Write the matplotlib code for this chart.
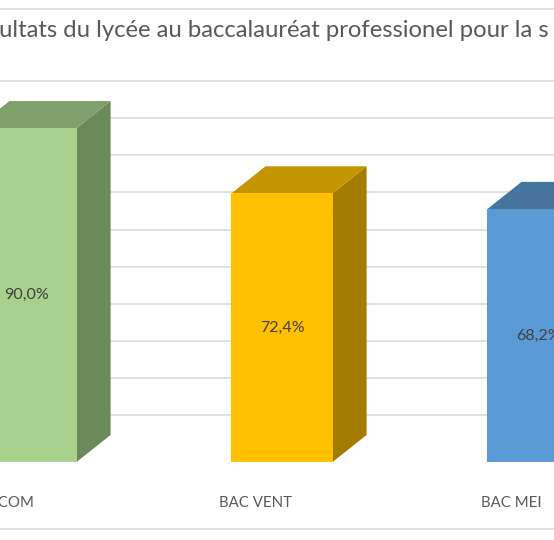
import matplotlib
matplotlib.use("Agg")
import matplotlib.pyplot as plt
from matplotlib.patches import Polygon
from matplotlib.lines import Line2D

# Data
categories = ["BAC COM", "BAC VENT", "BAC MEI"]
values = [90.0, 72.4, 68.2]
value_labels = ["90,0%", "72,4%", "68,2%"]
grid_values = [0, 10, 20, 30, 40, 50, 60, 70, 80, 90]
title_text = "ultats du lycée au baccalauréat professionel pour la s"

# Styling
front_colors = ["#A9D18E", "#FFC000", "#5B9BD5"]
top_colors = ["#7F9F6B", "#C39500", "#45749F"]
side_colors = ["#6B8A5A", "#A37B00", "#3C6690"]
font = ["Lato", "DejaVu Sans"]

W, H, DPI = 554, 540, 100
fig = plt.figure(figsize=(W / DPI, H / DPI), dpi=DPI)
fig.patch.set_facecolor("white")

ax = fig.add_axes([0, 0, 1, 1])
ax.set_xlim(-0.1016, 2.0625)
ax.set_ylim(-21.02, 124.53)
ax.axis("off")

bar_w = 0.395     # front face width (category units)
depth_x = 0.133   # oblique depth offset
depth_y = 7.3     # oblique depth offset (percent units)
wall = 12.67      # back wall offset for the gridlines

# Back-wall gridlines
for g in grid_values:
    ax.axhline(wall + g, color="#D9D9D9", lw=1.1, zorder=1)

# 3D-style columns
for i, (v, fc, tc, sc) in enumerate(zip(values, front_colors, top_colors, side_colors)):
    x0 = i - bar_w / 2
    x1 = i + bar_w / 2
    front = Polygon([(x0, 0), (x1, 0), (x1, v), (x0, v)], closed=True,
                    facecolor=fc, edgecolor="none", zorder=3)
    top = Polygon([(x0, v), (x1, v), (x1 + depth_x, v + depth_y), (x0 + depth_x, v + depth_y)],
                  closed=True, facecolor=tc, edgecolor="none", zorder=3)
    side = Polygon([(x1, 0), (x1 + depth_x, depth_y), (x1 + depth_x, v + depth_y), (x1, v)],
                   closed=True, facecolor=sc, edgecolor="none", zorder=3)
    for p in (side, top, front):
        ax.add_patch(p)
    ax.text(i, v / 2, value_labels[i], ha="center", va="center", fontsize=11.5,
            color="#404040", family=font, zorder=4)

# Category labels
for i, c in enumerate(categories):
    ax.text(i - 0.105, -11.1, c, ha="center", va="center", fontsize=10.8,
            color="#595959", family=font, zorder=4)

# Chart area borders
for yy in (1 - 9 / H, 1 - 529 / H):
    fig.add_artist(Line2D([0, 1], [yy, yy], transform=fig.transFigure,
                          color="#D9D9D9", lw=1.1))

# Title
fig.text(-1 / W, 1 - 31 / H, title_text, ha="left", va="center", fontsize=17.2,
         color="#595959", family=font)

fig.savefig("out.png", dpi=DPI, facecolor="white")
